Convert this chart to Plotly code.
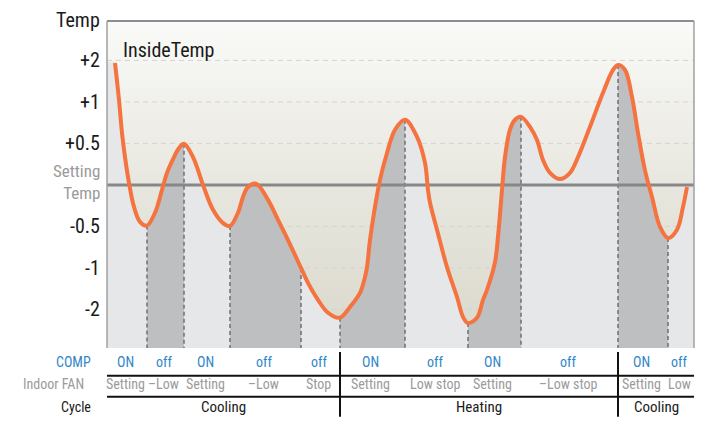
import plotly.graph_objects as go

# ---------------- data ----------------
# time axis (arbitrary units) and inside temperature, expressed on the chart's
# ordinal temperature scale (0 = setting temp, 1 = +0.5, 2 = +1, 3 = +2, -1 = -0.5 ...)
time_pts = [8, 12, 15, 18, 22, 27, 33, 40, 48, 55, 60, 67, 72, 77, 86, 96, 106, 116, 123,
            131, 136, 141, 149, 161, 171, 181, 194, 201, 211, 221, 233, 243, 253, 258, 260,
            263, 268, 273, 280, 288, 298, 310, 318, 321, 323, 330, 340, 350, 356, 361, 370,
            376, 380, 388, 391, 395, 398, 403, 408, 414, 423, 430, 436, 443, 453, 463, 471,
            483, 496, 506, 511, 518, 525, 531, 538, 545, 553, 561, 570, 576, 580]
temp_lvl = [2.94, 2.05, 1.25, 0.67, 0.05, -0.53, -0.89, -0.98, -0.67, -0.12, 0.29, 0.67,
            0.89, 0.99, 0.67, 0.0, -0.60, -0.92, -0.99, -0.67, -0.29, -0.05, 0.03, -0.36,
            -0.84, -1.33, -2.0, -2.36, -2.77, -3.08, -3.2, -2.94, -2.60, -2.22, -1.98, -1.33,
            -0.53, 0.12, 0.77, 1.33, 1.57, 1.16, 0.53, -0.12, -0.43, -1.08, -1.98, -2.70,
            -3.18, -3.33, -3.2, -2.77, -2.53, -1.86, -1.25, -0.12, 0.67, 1.33, 1.57, 1.64,
            1.40, 1.08, 0.60, 0.29, 0.14, 0.29, 0.67, 1.40, 2.22, 2.77, 2.89, 2.77, 2.12,
            1.25, 0.35, -0.29, -1.01, -1.28, -1.08, -0.53, -0.05]

tick_levels = [3, 2, 1, -1, -2, -3]
tick_labels = ["+2", "+1", "+0.5", "-0.5", "-1", "-2"]

seg_bounds = [0, 40, 77, 123, 194, 233, 298, 361, 414, 511, 561, 587]
comp_labels = ["ON", "off", "ON", "off", "off", "ON", "off", "ON", "off", "ON", "off"]
fan_labels = ["Setting", "\u2013Low", "Setting", "\u2013Low", "Stop", "Setting", "Low stop",
              "Setting", "\u2013Low stop", "Setting", "Low"]
cycle_bounds = [0, 233, 511, 587]
cycle_labels = ["Cooling", "Heating", "Cooling"]

# ---------------- style ----------------
FONT = "Roboto Condensed, DejaVu Sans Condensed, sans-serif"
Y_MIN, Y_MAX = -3.93, 3.95
X_MIN, X_MAX = seg_bounds[0], seg_bounds[-1]
LIGHT = "#e6e7e9"
DARK = "#bebfc1"
ORANGE = "#f4733f"
PLOT_LEFT = 107  # left edge of the plot area in page pixels

fig = go.Figure()

# gradient background
fig.add_trace(go.Scatter(
    x=[X_MIN, X_MAX, X_MAX, X_MIN, X_MIN], y=[Y_MIN, Y_MIN, Y_MAX, Y_MAX, Y_MIN],
    mode="lines", line=dict(width=0), fill="toself",
    fillgradient=dict(type="vertical", start=Y_MIN, stop=Y_MAX,
                      colorscale=[[0, "#dad8cb"], [0.5, "#e8e7df"], [1, "#fafaf8"]]),
    hoverinfo="skip", showlegend=False))

# dashed gridlines
for lv in tick_levels:
    fig.add_trace(go.Scatter(x=[X_MIN, X_MAX], y=[lv, lv], mode="lines",
                             line=dict(color="#d3d3d3", width=1, dash="5px,4px"),
                             hoverinfo="skip", showlegend=False))

# fills under the curve, per segment
fx = [X_MIN] + time_pts + [X_MAX]
fy = [temp_lvl[0]] + temp_lvl + [temp_lvl[-1]]
for i in range(len(seg_bounds) - 1):
    a, b = seg_bounds[i], seg_bounds[i + 1]
    xs = [x for x in fx if a <= x <= b]
    ys = [y for x, y in zip(fx, fy) if a <= x <= b]
    col = LIGHT if i % 2 == 0 else DARK
    fig.add_trace(go.Scatter(x=[a, b], y=[Y_MIN, Y_MIN], mode="lines", line=dict(width=0),
                             hoverinfo="skip", showlegend=False))
    fig.add_trace(go.Scatter(x=xs, y=ys, mode="lines",
                             line=dict(width=0.6, color=col, shape="spline", smoothing=1),
                             fill="tonexty", fillcolor=col, hoverinfo="skip", showlegend=False))

# dashed vertical lines at segment boundaries
for b in seg_bounds[1:-1]:
    lv = temp_lvl[time_pts.index(b)]
    fig.add_trace(go.Scatter(x=[b, b], y=[lv, Y_MIN], mode="lines",
                             line=dict(color="#707070", width=1.5, dash="4px,3px"),
                             hoverinfo="skip", showlegend=False))

# setting temperature line
fig.add_trace(go.Scatter(x=[X_MIN, X_MAX], y=[0, 0], mode="lines",
                         line=dict(color="#878787", width=3), hoverinfo="skip", showlegend=False))

# inside temperature curve
fig.add_trace(go.Scatter(x=time_pts, y=temp_lvl, mode="lines",
                         line=dict(color=ORANGE, width=4, shape="spline", smoothing=1),
                         hoverinfo="skip", showlegend=False))

# ---------------- annotations ----------------
ann = []
for lv, t in zip(tick_levels, tick_labels):
    ann.append(dict(x=0, xref="paper", y=lv, yref="y", text=t, showarrow=False,
                    xanchor="right", yanchor="middle", xshift=-5,
                    font=dict(family=FONT, size=20, color="#1a1a1a")))
ann.append(dict(x=0, xref="paper", y=1, yref="paper", text="Temp", showarrow=False,
                xanchor="right", yanchor="middle", xshift=-5, yshift=1,
                font=dict(family=FONT, size=20, color="#1a1a1a")))
ann.append(dict(x=0, xref="paper", y=0, yref="y", text="Setting<br>Temp", showarrow=False,
                xanchor="right", yanchor="middle", xshift=-5, yshift=3, align="right",
                font=dict(family=FONT, size=17, color="#9a9a9a")))
ann.append(dict(x=0, xref="paper", y=1, yref="paper", text="InsideTemp", showarrow=False,
                xanchor="left", yanchor="middle", xshift=14, yshift=-29,
                font=dict(family=FONT, size=20, color="#1a1a1a")))

ROW_Y = [-0.043, -0.11, -0.18]
row_titles = [("COMP", "#2f86c8", 93), ("Indoor FAN", "#9b9b9b", 86), ("Cycle", "#1a1a1a", 93)]
for (t, c, xr), ry in zip(row_titles, ROW_Y):
    ann.append(dict(x=0, xref="paper", y=ry, yref="paper", text=t, showarrow=False,
                    xanchor="right", yanchor="middle", xshift=xr - PLOT_LEFT,
                    font=dict(family=FONT, size=14, color=c)))
for i in range(len(comp_labels)):
    cx = (seg_bounds[i] + seg_bounds[i + 1]) / 2
    ann.append(dict(x=cx, xref="x", y=ROW_Y[0], yref="paper", text=comp_labels[i],
                    showarrow=False, xanchor="center", yanchor="middle", xshift=-2,
                    font=dict(family=FONT, size=14, color="#2f86c8")))
    ann.append(dict(x=cx, xref="x", y=ROW_Y[1], yref="paper", text=fan_labels[i],
                    showarrow=False, xanchor="center", yanchor="middle", xshift=-2,
                    font=dict(family=FONT, size=14, color="#9b9b9b")))
for i in range(len(cycle_labels)):
    cx = (cycle_bounds[i] + cycle_bounds[i + 1]) / 2
    ann.append(dict(x=cx, xref="x", y=ROW_Y[2], yref="paper", text=cycle_labels[i],
                    showarrow=False, xanchor="center", yanchor="middle",
                    font=dict(family=FONT, size=15, color="#1a1a1a")))

# ---------------- shapes ----------------
shapes = [
    dict(type="line", xref="paper", yref="paper", x0=0, x1=1, y0=1, y1=1,
         line=dict(color="#8c8c94", width=2)),
    dict(type="line", xref="paper", yref="paper", x0=0, x1=0, y0=0, y1=1,
         line=dict(color="#a0a0a0", width=1.5)),
    dict(type="line", xref="paper", yref="paper", x0=1, x1=1, y0=0, y1=1,
         line=dict(color="#a0a0a0", width=1.5)),
    dict(type="line", xref="paper", yref="paper", x0=0, x1=1, y0=-0.085, y1=-0.085,
         line=dict(color="#111111", width=2)),
    dict(type="line", xref="paper", yref="paper", x0=0, x1=1, y0=-0.149, y1=-0.149,
         line=dict(color="#111111", width=2)),
]
for b in cycle_bounds[1:-1]:
    shapes.append(dict(type="line", xref="x", yref="paper", x0=b, x1=b, y0=-0.012, y1=-0.21,
                       line=dict(color="#111111", width=2)))

# the page adds an 8px body margin, so the figure is 8px smaller than the window
fig.update_layout(
    width=717, height=416,
    margin=dict(l=PLOT_LEFT - 8, r=31, t=13, b=76),
    paper_bgcolor="white", plot_bgcolor="white",
    xaxis=dict(range=[X_MIN, X_MAX], showgrid=False, zeroline=False, showticklabels=False,
               ticks="", showline=False, fixedrange=True),
    yaxis=dict(range=[Y_MIN, Y_MAX], showgrid=False, zeroline=False, showticklabels=False,
               ticks="", showline=False, fixedrange=True),
    annotations=ann, shapes=shapes, showlegend=False,
)

fig.write_html("out.html")
